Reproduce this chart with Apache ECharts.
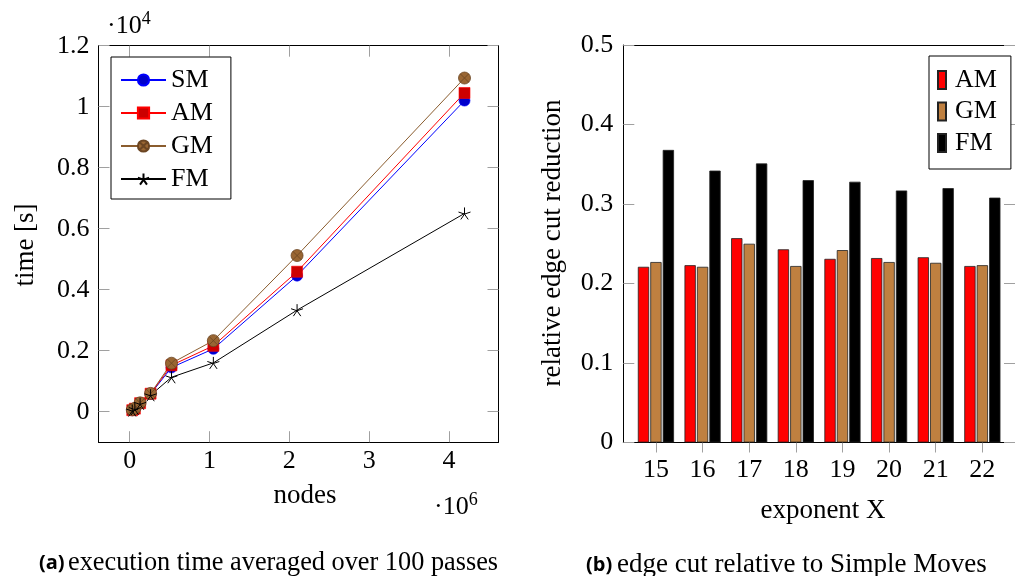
<!DOCTYPE html>
<html>
<head>
<meta charset="utf-8">
<script src="https://cdn.jsdelivr.net/npm/echarts@6/dist/echarts.min.js"></script>
<style>
html,body{margin:0;padding:0;background:#fff;}
#c{width:1015px;height:576px;}
</style>
</head>
<body>
<div id="c"></div>
<script>
// ---- data: left chart (execution time) ----
const nodes = [32768, 65536, 131072, 262144, 524288, 1048576, 2097152, 4194304];
const smTime = [50, 100, 270, 580, 1450, 2060, 4460, 10200];
const amTime = [50, 100, 280, 590, 1520, 2160, 4590, 10450];
const gmTime = [60, 110, 290, 600, 1590, 2330, 5120, 10940];
const fmTime = [40, 90, 260, 540, 1130, 1600, 3330, 6500];
const leftXTicks = [0, 1, 2, 3, 4];
const leftYTicks = [0, 0.2, 0.4, 0.6, 0.8, 1, 1.2];

// ---- data: right chart (edge cut reduction) ----
const exponents = [15, 16, 17, 18, 19, 20, 21, 22];
const amReduction = [0.221, 0.223, 0.257, 0.243, 0.231, 0.232, 0.233, 0.222];
const gmReduction = [0.227, 0.221, 0.250, 0.222, 0.242, 0.227, 0.226, 0.223];
const fmReduction = [0.368, 0.342, 0.351, 0.330, 0.328, 0.317, 0.320, 0.308];

const SERIF = 'Liberation Serif';
const FS = 26;
const tickGray = '#a0a0a0';

function pts(ys) { return nodes.map((n, i) => [n / 1e6, ys[i] / 1e4]); }
function bars(ys) { return exponents.map((e, i) => [e, ys[i]]); }

const starPath = 'path://M0 0 L0 -10 M0 0 L9.51 -3.09 M0 0 L5.88 8.09 M0 0 L-5.88 8.09 M0 0 L-9.51 -3.09';
const otimesPath = 'path://M-10 0 A10 10 0 1 0 10 0 A10 10 0 1 0 -10 0 Z M-7.07 -7.07 L7.07 7.07 M7.07 -7.07 L-7.07 7.07';

const fmtNum = v => String(+(+v).toFixed(2));
const labelStyle = { fontFamily: SERIF, fontSize: FS, color: '#000' };

function mirrorAxis(base, extra) { return Object.assign({}, base, extra); }

const chart = echarts.init(document.getElementById('c'), null, { renderer: 'canvas' });

const leftX = {
  type: 'value', gridIndex: 0, min: -0.39, max: 4.62,
  axisLine: { show: true, onZero: false, lineStyle: { color: '#000', width: 1 } },
  axisTick: { show: true, inside: true, length: 11, customValues: leftXTicks, lineStyle: { color: tickGray } },
  axisLabel: Object.assign({ show: true, margin: 6, customValues: leftXTicks, formatter: fmtNum }, labelStyle),
  splitLine: { show: false }
};
const leftY = {
  type: 'value', gridIndex: 0, min: -0.1, max: 1.2,
  axisLine: { show: true, onZero: false, lineStyle: { color: '#000', width: 1 } },
  axisTick: { show: true, inside: true, length: 11, customValues: leftYTicks, lineStyle: { color: tickGray } },
  axisLabel: Object.assign({ show: true, margin: 9, customValues: leftYTicks, formatter: fmtNum }, labelStyle),
  splitLine: { show: false }
};
const rightX = {
  type: 'value', gridIndex: 1, min: 14.3, max: 22.7,
  axisLine: { show: true, onZero: false, lineStyle: { color: '#000', width: 1 } },
  axisTick: { show: true, inside: false, length: 10, customValues: exponents, lineStyle: { color: tickGray } },
  axisLabel: Object.assign({ show: true, margin: 15, customValues: exponents, formatter: fmtNum }, labelStyle),
  splitLine: { show: false }
};
const rightY = {
  type: 'value', gridIndex: 1, min: 0, max: 0.5, interval: 0.1,
  axisLine: { show: true, onZero: false, lineStyle: { color: '#000', width: 1 } },
  axisTick: { show: true, inside: true, length: 11, lineStyle: { color: tickGray } },
  axisLabel: Object.assign({ show: true, margin: 10, formatter: fmtNum }, labelStyle),
  splitLine: { show: false }
};

const supRich = { s: { fontFamily: SERIF, fontSize: 18, lineHeight: 14, verticalAlign: 'top' } };

const option = {
  animation: false,
  backgroundColor: '#fff',
  grid: [
    { left: 98.5, top: 45.7, width: 400, height: 396.5 },
    { left: 623.3, top: 45, width: 399, height: 397.5 }
  ],
  xAxis: [
    mirrorAxis(leftX, { position: 'bottom' }),
    mirrorAxis(leftX, { position: 'top', axisLabel: { show: false, customValues: leftXTicks } }),
    mirrorAxis(rightX, { position: 'bottom' }),
    mirrorAxis(rightX, { position: 'top', axisTick: { show: false }, axisLabel: { show: false } })
  ],
  yAxis: [
    mirrorAxis(leftY, { position: 'left' }),
    mirrorAxis(leftY, { position: 'right', axisLabel: { show: false, customValues: leftYTicks } }),
    mirrorAxis(rightY, { position: 'left' }),
    mirrorAxis(rightY, { position: 'right', axisLabel: { show: false } })
  ],
  legend: [
    {
      data: ['SM', 'AM', 'GM', 'FM'],
      orient: 'vertical', left: 111, top: 57,
      backgroundColor: '#fff', borderColor: '#000', borderWidth: 1, borderRadius: 0,
      padding: [10, 18, 7, 9], itemGap: 7, itemWidth: 45, itemHeight: 14,
      selectedMode: false,
      textStyle: { fontFamily: SERIF, fontSize: FS, color: '#000', lineHeight: 22 }
    },
    {
      data: ['bar-AM', 'bar-GM', 'bar-FM'],
      orient: 'vertical', left: 929, top: 56,
      backgroundColor: '#fff', borderColor: '#000', borderWidth: 1, borderRadius: 0,
      padding: [11, 14, 13, 8], itemGap: 5.5, itemWidth: 8, itemHeight: 18,
      icon: 'rect', selectedMode: false,
      formatter: n => n.replace('bar-', ''),
      textStyle: { fontFamily: SERIF, fontSize: FS, color: '#000', lineHeight: 22, padding: [0, 0, 0, 4] }
    }
  ],
  series: [
    {
      name: 'SM', type: 'line', xAxisIndex: 0, yAxisIndex: 0, data: pts(smTime),
      symbol: 'circle', symbolSize: 11, showAllSymbol: true,
      lineStyle: { color: '#0000ff', width: 1 },
      itemStyle: { color: '#0000cc', borderColor: '#0000ff', borderWidth: 0.6 }
    },
    {
      name: 'AM', type: 'line', xAxisIndex: 0, yAxisIndex: 0, data: pts(amTime),
      symbol: 'rect', symbolSize: 11, showAllSymbol: true,
      lineStyle: { color: '#ff0000', width: 1 },
      itemStyle: { color: '#cc0000', borderColor: '#ff0000', borderWidth: 0.6 }
    },
    {
      name: 'GM', type: 'line', xAxisIndex: 0, yAxisIndex: 0, data: pts(gmTime),
      symbol: otimesPath, symbolSize: 12, showAllSymbol: true,
      lineStyle: { color: '#8a5c2e', width: 1 },
      itemStyle: { color: '#996633', borderColor: '#6b4522', borderWidth: 0.8 }
    },
    {
      name: 'FM', type: 'line', xAxisIndex: 0, yAxisIndex: 0, data: pts(fmTime),
      symbol: starPath, symbolSize: 12, showAllSymbol: true,
      lineStyle: { color: '#000', width: 1 },
      itemStyle: { color: 'none', borderColor: '#000', borderWidth: 1 }
    },
    {
      name: 'bar-AM', type: 'bar', xAxisIndex: 2, yAxisIndex: 2, data: bars(amReduction),
      barWidth: 11.3, barGap: '10%',
      itemStyle: { color: '#ff0000', borderColor: '#222', borderWidth: 0.8 }
    },
    {
      name: 'bar-GM', type: 'bar', xAxisIndex: 2, yAxisIndex: 2, data: bars(gmReduction),
      barWidth: 11.3, barGap: '10%',
      itemStyle: { color: '#bf8040', borderColor: '#222', borderWidth: 0.8 }
    },
    {
      name: 'bar-FM', type: 'bar', xAxisIndex: 2, yAxisIndex: 2, data: bars(fmReduction),
      barWidth: 11.3, barGap: '10%',
      itemStyle: { color: '#000000', borderColor: '#222', borderWidth: 0.8 }
    }
  ],
  graphic: [
    { type: 'text', x: 107, y: 26, style: { text: '·10{s|4}', fontFamily: SERIF, fontSize: FS, lineHeight: 32, fill: '#000', verticalAlign: 'middle', align: 'left', rich: supRich } },
    { type: 'text', x: 434, y: 507, style: { text: '·10{s|6}', fontFamily: SERIF, fontSize: FS, lineHeight: 32, fill: '#000', verticalAlign: 'middle', align: 'left', rich: supRich } },
    { type: 'text', x: 305, y: 496, style: { text: 'nodes', fontFamily: SERIF, fontSize: 27, fill: '#000', align: 'center', verticalAlign: 'middle' } },
    { type: 'text', x: 26, y: 245, rotation: Math.PI / 2, style: { text: 'time [s]', fontFamily: SERIF, fontSize: 27, fill: '#000', align: 'center', verticalAlign: 'middle' } },
    { type: 'text', x: 553, y: 243, rotation: Math.PI / 2, style: { text: 'relative edge cut reduction', fontFamily: SERIF, fontSize: 27, fill: '#000', align: 'center', verticalAlign: 'middle' } },
    { type: 'text', x: 823, y: 511, style: { text: 'exponent X', fontFamily: SERIF, fontSize: 27, fill: '#000', align: 'center', verticalAlign: 'middle' } },
    { type: 'text', x: 39, y: 563, style: { text: '(a)', fontFamily: 'Open Sans', fontWeight: 'bold', fontSize: 20, fill: '#000', align: 'left', verticalAlign: 'middle' } },
    { type: 'text', x: 68, y: 563, style: { text: 'execution time averaged over 100 passes', fontFamily: SERIF, fontSize: 26.3, fill: '#000', align: 'left', verticalAlign: 'middle' } },
    { type: 'text', x: 586, y: 565, style: { text: '(b)', fontFamily: 'Open Sans', fontWeight: 'bold', fontSize: 20, fill: '#000', align: 'left', verticalAlign: 'middle' } },
    { type: 'text', x: 617, y: 565, style: { text: 'edge cut relative to Simple Moves', fontFamily: SERIF, fontSize: 27, fill: '#000', align: 'left', verticalAlign: 'middle' } }
  ]
};
chart.setOption(option);
</script>
</body>
</html>
